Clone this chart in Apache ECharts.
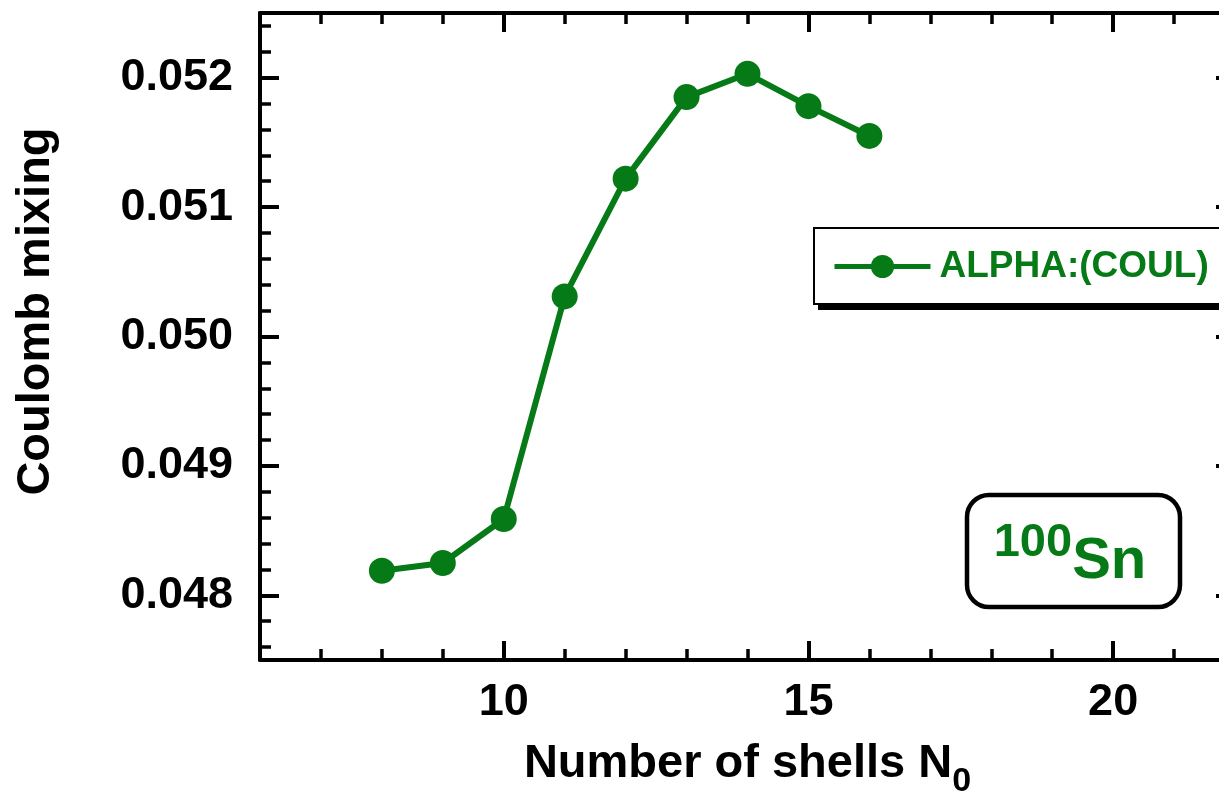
<!DOCTYPE html>
<html>
<head>
<meta charset="utf-8">
<script src="https://cdn.jsdelivr.net/npm/echarts@6/dist/echarts.min.js"></script>
<style>
  html, body { margin: 0; padding: 0; background: #fff; }
  #chart { width: 1219px; height: 795px; }
</style>
</head>
<body>
<div id="chart"></div>
<script>
// Coulomb mixing parameter of 100Sn versus the number of oscillator shells N0
const shells = [8, 9, 10, 11, 12, 13, 14, 15, 16];
const coulombMixing = [0.04819, 0.04825, 0.04859, 0.05031, 0.05122, 0.05185, 0.05203, 0.05178, 0.05155];
const seriesName = 'ALPHA:(COUL)';
const nucleusMass = '100';
const nucleusSymbol = 'Sn';
const xTitle = 'Number of shells N';
const xTitleSub = '0';
const yTitle = 'Coulomb mixing';

const GREEN = '#067a16';
const FONT = '"Liberation Sans", Arial, Helvetica, sans-serif';

const chart = echarts.init(document.getElementById('chart'), null, { renderer: 'canvas' });

const frameLine = { show: true, onZero: false, lineStyle: { color: '#000', width: 4 } };
const majorTick = { show: true, inside: true, length: 19, lineStyle: { color: '#000', width: 4 } };
const minorTick = { show: true, splitNumber: 5, length: 11, lineStyle: { color: '#000', width: 3.5 } };

const xBase = {
  type: 'value', min: 6, max: 22, minInterval: 5, maxInterval: 5,
  axisLine: frameLine, axisTick: majorTick, minorTick: minorTick,
  splitLine: { show: false }
};
const yBase = {
  type: 'value', min: 0.0475, max: 0.0525, minInterval: 0.001, maxInterval: 0.001,
  axisLine: frameLine, axisTick: majorTick, minorTick: minorTick,
  splitLine: { show: false }
};

chart.setOption({
  backgroundColor: '#fff',
  animation: false,
  grid: { left: 260, top: 13, width: 975, height: 647, containLabel: false, outerBoundsMode: 'none' },
  xAxis: [
    Object.assign({}, xBase, {
      position: 'bottom',
      name: '{t|' + xTitle + '}{s|' + xTitleSub + '}',
      nameLocation: 'middle',
      nameGap: 81,
      nameTextStyle: {
        rich: {
          t: { fontFamily: FONT, fontWeight: 'bold', fontSize: 47, color: '#000', verticalAlign: 'top' },
          s: { fontFamily: FONT, fontWeight: 'bold', fontSize: 34, color: '#000', verticalAlign: 'bottom', padding: [24, 0, 0, 0] }
        }
      },
      axisLabel: {
        show: true, showMinLabel: false, showMaxLabel: false, margin: 20,
        fontFamily: FONT, fontWeight: 'bold', fontSize: 45, color: '#000'
      }
    }),
    Object.assign({}, xBase, { position: 'top', axisLabel: { show: false } })
  ],
  yAxis: [
    Object.assign({}, yBase, {
      position: 'left',
      name: yTitle,
      nameLocation: 'middle',
      nameGap: 200,
      nameRotate: 90,
      nameTextStyle: {
        fontFamily: FONT, fontWeight: 'bold', fontSize: 47, color: '#000',
        padding: [0, 0, 0, 50]
      },
      axisLabel: {
        show: true, showMinLabel: false, showMaxLabel: false, margin: 27,
        fontFamily: FONT, fontWeight: 'bold', fontSize: 45, color: '#000',
        formatter: v => v.toFixed(3)
      }
    }),
    Object.assign({}, yBase, { position: 'right', axisLabel: { show: false } })
  ],
  legend: {
    show: true,
    left: 814, top: 228,
    orient: 'vertical',
    data: [seriesName],
    itemWidth: 96, itemHeight: 29,
    padding: [20, 60, 19, 18],
    backgroundColor: '#fff',
    borderColor: '#000', borderWidth: 2, borderRadius: 0,
    lineStyle: { width: 5 },
    textStyle: { fontFamily: FONT, fontWeight: 'bold', fontSize: 37, color: GREEN, padding: [0, 0, 0, 4] },
    z: 6
  },
  series: [{
    name: seriesName,
    type: 'line',
    xAxisIndex: 0, yAxisIndex: 0,
    data: shells.map((n, i) => [n, coulombMixing[i]]),
    symbol: 'circle', symbolSize: 26,
    itemStyle: { color: GREEN },
    lineStyle: { color: GREEN, width: 6 },
    z: 3
  }],
  graphic: {
    elements: [{
      // drop shadow under the legend box
      type: 'rect', z: 5, zlevel: 0,
      shape: { x: 818, y: 238, width: 420, height: 72 },
      style: { fill: '#000' }
    }, {
      type: 'rect', z: 5,
      shape: { x: 967, y: 495, width: 213, height: 112, r: 22 },
      style: { fill: '#fff', stroke: '#000', lineWidth: 4.5 }
    }, {
      type: 'text', z: 6,
      x: 1070, y: 555,
      style: {
        text: '{m|' + nucleusMass + '}{e|' + nucleusSymbol + '}',
        align: 'center', verticalAlign: 'middle',
        rich: {
          m: { fontFamily: FONT, fontWeight: 'bold', fontSize: 47, fill: GREEN, verticalAlign: 'top', padding: [0, 0, 24, 0] },
          e: { fontFamily: FONT, fontWeight: 'bold', fontSize: 58, fill: GREEN, verticalAlign: 'bottom' }
        }
      }
    }]
  }
});
</script>
</body>
</html>
